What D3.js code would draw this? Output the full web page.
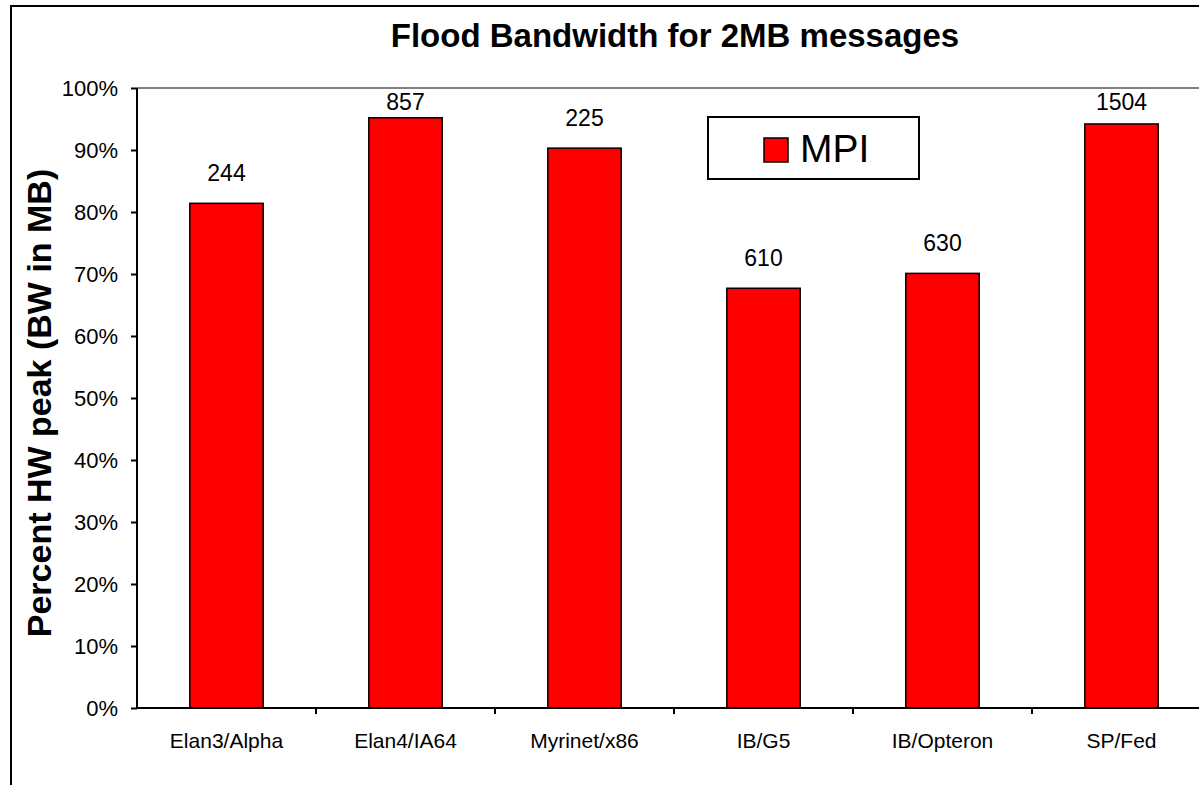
<!DOCTYPE html>
<html>
<head>
<meta charset="utf-8">
<script src="https://cdn.jsdelivr.net/npm/d3@7"></script>
<style>
  body { margin: 0; background: #fff; }
  svg { display: block; font-family: Arial, "Liberation Sans", sans-serif; }
</style>
</head>
<body>
<svg id="chart"></svg>
<script>
var categories = ['Elan3/Alpha', 'Elan4/IA64', 'Myrinet/x86', 'IB/G5', 'IB/Opteron', 'SP/Fed']
var mpiPercent = [81.4, 95.2, 90.3, 67.7, 70.1, 94.2]
var mpiBandwidth = ['244', '857', '225', '610', '630', '1504']
var yTicks = [0, 10, 20, 30, 40, 50, 60, 70, 80, 90, 100]

var width = 1199,
    height = 785
var margin = { top: 88, right: -12, bottom: 77, left: 137 }

var svg = d3.select('#chart').attr('width', width).attr('height', height)

// outer chart frame (runs off the right and bottom edges)
svg.append('rect')
    .attr('x', 11).attr('y', 6)
    .attr('width', width + 20).attr('height', height + 20)
    .style('fill', 'none').style('stroke', '#000').style('stroke-width', 2)

var plotW = width - margin.left - margin.right
var plotH = height - margin.top - margin.bottom

var xScale = d3.scaleBand()
    .domain(categories)
    .range([0, plotW])

var yScale = d3.scaleLinear()
    .domain([0, 100])
    .range([plotH, 0])

var g = svg.append('g')
    .attr('transform', 'translate(' + margin.left + ',' + margin.top + ')')

// plot area top edge
g.append('line')
    .attr('x1', 0).attr('x2', plotW)
    .attr('y1', 0).attr('y2', 0)
    .style('stroke', '#808080').style('stroke-width', 2)

var barW = xScale.bandwidth() * 0.41

g.selectAll('rect.bar')
    .data(mpiPercent)
    .enter()
    .append('rect')
    .attr('class', 'bar')
    .attr('x', function(d, i){ return xScale(categories[i]) + (xScale.bandwidth() - barW) / 2 })
    .attr('y', function(d){ return yScale(d) })
    .attr('width', barW)
    .attr('height', function(d){ return plotH - yScale(d) })
    .style('fill', '#ff0000')
    .style('stroke', '#000')
    .style('stroke-width', 1.5)

g.selectAll('text.val')
    .data(mpiBandwidth)
    .enter()
    .append('text')
    .attr('class', 'val')
    .attr('x', function(d, i){ return xScale(categories[i]) + xScale.bandwidth() / 2 })
    .attr('y', function(d, i){ return Math.max(yScale(mpiPercent[i]) - 22, 22) })
    .attr('text-anchor', 'middle')
    .style('font-size', '23px')
    .text(function(d){ return d })

// y axis
var yAxis = d3.axisLeft(yScale)
    .tickValues(yTicks)
    .tickSize(6)
    .tickFormat(function(d){ return d + '%' })
var yAxisG = g.append('g').attr('id', 'yAxisG').call(yAxis)
yAxisG.select('.domain').attr('d', 'M0,0V' + plotH).style('stroke', '#000').style('stroke-width', 2)
yAxisG.selectAll('.tick line').style('stroke', '#000').style('stroke-width', 2)
yAxisG.selectAll('.tick text')
    .attr('x', -19)
    .style('font-size', '22px')
    .style('font-family', 'Arial, "Liberation Sans", sans-serif')
    .style('fill', '#000')

// x axis, ticks between categories
var xAxisG = g.append('g')
    .attr('id', 'xAxisG')
    .attr('transform', 'translate(0,' + plotH + ')')
xAxisG.append('line')
    .attr('x1', 0).attr('x2', plotW)
    .style('stroke', '#000').style('stroke-width', 2)
xAxisG.selectAll('line.tk')
    .data(categories)
    .enter()
    .append('line')
    .attr('class', 'tk')
    .attr('x1', function(d){ return xScale(d) + xScale.bandwidth() })
    .attr('x2', function(d){ return xScale(d) + xScale.bandwidth() })
    .attr('y1', 0).attr('y2', 6)
    .style('stroke', '#000').style('stroke-width', 2)
xAxisG.selectAll('text')
    .data(categories)
    .enter()
    .append('text')
    .attr('x', function(d){ return xScale(d) + xScale.bandwidth() / 2 })
    .attr('y', 40)
    .attr('text-anchor', 'middle')
    .style('font-size', '21px')
    .text(function(d){ return d })

// title
svg.append('text')
    .attr('x', 675).attr('y', 47)
    .attr('text-anchor', 'middle')
    .style('font-size', '33px')
    .style('font-weight', 'bold')
    .text('Flood Bandwidth for 2MB messages')

// y axis title
svg.append('text')
    .attr('transform', 'translate(51,403) rotate(-90)')
    .attr('text-anchor', 'middle')
    .style('font-size', '34px')
    .style('font-weight', 'bold')
    .text('Percent HW peak (BW in MB)')

// legend
var legend = svg.append('g').attr('transform', 'translate(708,117)')
legend.append('rect')
    .attr('width', 211).attr('height', 62)
    .style('fill', '#fff').style('stroke', '#000').style('stroke-width', 2)
legend.append('rect')
    .attr('x', 56).attr('y', 21)
    .attr('width', 24).attr('height', 24)
    .style('fill', '#ff0000').style('stroke', '#000').style('stroke-width', 1.5)
legend.append('text')
    .attr('x', 92).attr('y', 45)
    .style('font-size', '39px')
    .text('MPI')
</script>
</body>
</html>
